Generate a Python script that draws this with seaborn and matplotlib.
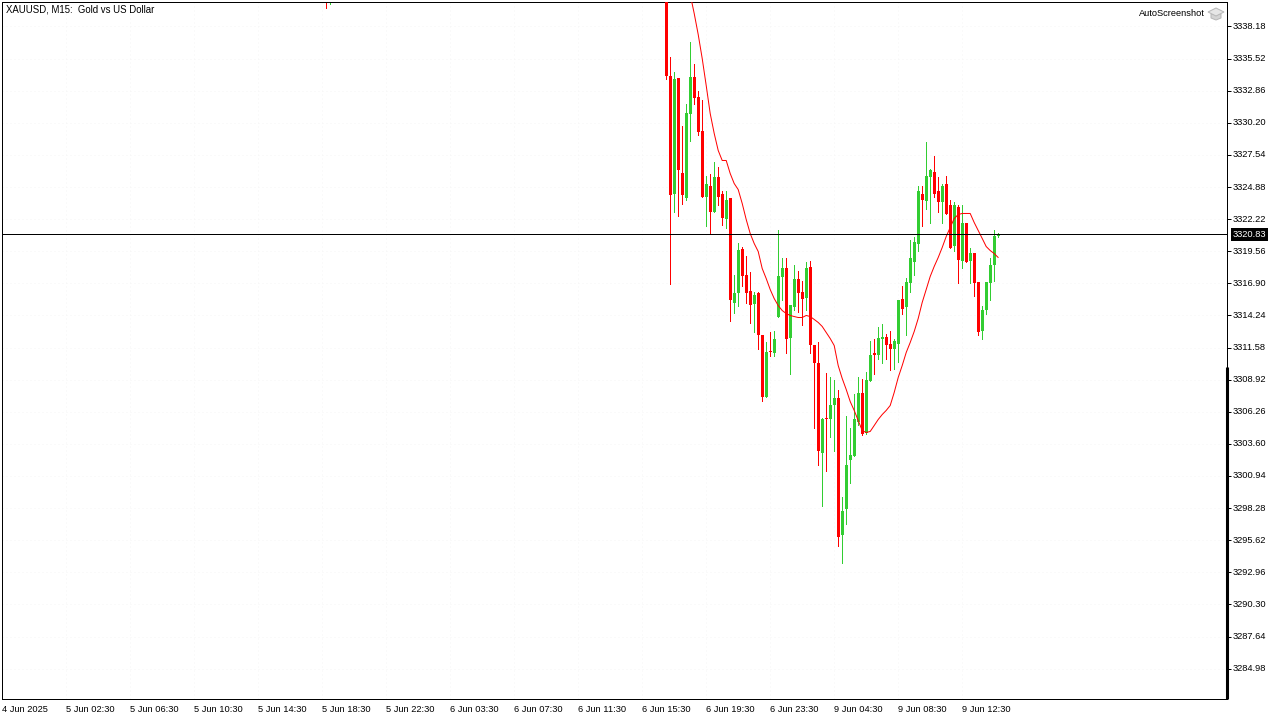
import numpy as np
import pandas as pd
import matplotlib
matplotlib.use("Agg")
import matplotlib.pyplot as plt
from matplotlib.patches import Polygon
from matplotlib.transforms import blended_transform_factory
import seaborn as sns

# ---- data ----
stray_bars = [81, 82]
stray_open = [3342.50, 3341.00]
stray_high = [3343.00, 3342.00]
stray_low = [3339.67, 3340.00]
stray_close = [3341.00, 3341.80]

first_bar = 166
opens = [3345.00,3334.04,3324.26,3333.87,3326.00,3323.93,3330.89,3333.95,3332.30,3329.48,
         3324.01,3324.92,3322.77,3325.67,3324.26,3322.19,3323.85,3315.23,3315.98,3319.70,
         3317.55,3316.22,3315.15,3315.98,3312.50,3307.44,3311.25,3311.09,3314.07,3317.38,
         3318.13,3312.33,3314.82,3317.22,3316.14,3315.64,3318.21,3311.75,3310.26,3302.80,
         3305.70,3305.54,3306.78,3307.28,3295.93,3298.16,3302.22,3302.55,3305.37,3307.77,
         3304.46,3308.77,3311.01,3310.92,3312.17,3312.41,3311.83,3311.42,3311.83,3315.56,
         3314.82,3316.89,3318.63,3320.04,3324.26,3323.68,3325.59,3326.08,3324.51,3323.52,
         3325.09,3323.35,3319.95,3323.18,3318.71,3321.86,3318.71,3319.37,3316.97,3312.91,
         3314.65,3316.89,3318.30,3320.75]
highs = [3346.00,3335.61,3334.29,3333.87,3329.89,3331.72,3336.85,3335.03,3332.79,3332.05,
         3325.75,3325.84,3326.91,3326.50,3324.43,3324.51,3323.85,3317.55,3320.20,3319.87,
         3319.12,3317.80,3316.14,3316.14,3312.58,3312.00,3312.83,3312.91,3321.28,3318.88,
         3318.88,3315.06,3318.30,3317.88,3317.05,3318.63,3318.71,3311.75,3312.00,3305.70,
         3309.43,3309.10,3308.85,3308.02,3299.16,3305.87,3304.87,3307.69,3309.10,3308.93,
         3309.51,3312.08,3312.17,3313.24,3313.49,3312.66,3312.91,3312.25,3315.48,3316.64,
         3317.30,3320.45,3320.62,3324.92,3324.92,3328.49,3326.33,3327.41,3325.59,3325.01,
         3325.75,3323.76,3323.52,3323.35,3323.35,3321.86,3319.79,3319.37,3316.97,3314.98,
         3316.97,3318.88,3321.20,3320.95]
lows = [3333.79,3316.80,3322.69,3322.44,3323.43,3323.76,3328.65,3331.72,3329.15,3324.01,
        3321.53,3321.03,3322.69,3323.27,3321.69,3321.44,3313.74,3314.40,3314.98,3316.56,
        3315.23,3313.57,3312.83,3311.34,3307.11,3307.44,3310.84,3310.84,3314.07,3315.48,
        3311.09,3309.35,3314.65,3314.48,3313.41,3314.65,3311.01,3304.87,3301.81,3298.41,
        3301.31,3304.05,3302.97,3295.10,3293.61,3296.92,3300.24,3302.55,3305.12,3304.29,
        3304.38,3308.77,3309.35,3310.59,3310.18,3310.59,3309.60,3309.76,3310.34,3314.24,
        3312.50,3316.14,3317.55,3319.54,3321.61,3322.94,3321.78,3324.01,3322.77,3321.86,
        3322.60,3319.79,3319.54,3316.89,3318.13,3318.63,3316.89,3315.81,3312.58,3312.17,
        3314.24,3315.48,3317.05,3320.70]
closes = [3334.04,3324.18,3333.79,3326.17,3324.10,3330.97,3333.95,3332.21,3329.40,3324.01,
          3325.01,3322.77,3325.67,3324.01,3322.27,3323.76,3315.40,3316.06,3319.62,3317.47,
          3316.06,3315.06,3315.89,3312.50,3307.44,3311.17,3311.17,3312.25,3317.47,3318.13,
          3312.25,3315.06,3317.14,3315.98,3315.56,3318.13,3311.75,3310.18,3302.89,3305.54,
          3305.62,3306.78,3307.28,3295.84,3298.00,3301.81,3302.64,3305.62,3307.77,3304.38,
          3308.85,3310.92,3310.92,3312.33,3312.41,3311.75,3311.34,3312.08,3315.40,3314.73,
          3316.97,3318.88,3320.28,3324.51,3323.76,3325.75,3326.17,3324.26,3323.52,3324.92,
          3322.60,3319.79,3323.27,3318.79,3321.86,3318.63,3319.37,3316.89,3312.83,3314.65,
          3316.97,3318.38,3320.78,3320.83]
read_offset = 0.08  # calibration of the candle readings against the price scale
moving_avg = [3340.83,3339.26,3337.52,3335.53,3333.29,3330.97,3329.32,3327.91,3327.08,3327.08,
              3326.00,3325.17,3324.67,3323.52,3322.19,3321.03,3320.20,3319.54,3318.13,3317.30,
              3316.39,3315.64,3315.06,3314.65,3314.40,3314.24,3314.15,3314.07,3314.07,3314.24,
              3314.15,3313.91,3313.66,3313.33,3312.83,3312.33,3311.75,3310.09,3309.02,3308.11,
              3307.11,3306.37,3305.54,3304.71,3304.54,3304.63,3305.12,3305.62,3306.03,3306.37,
              3306.78,3307.86,3309.10,3310.09,3311.17,3312.00,3312.91,3313.99,3315.32,3316.39,
              3317.47,3318.30,3319.04,3319.87,3320.78,3321.53,3322.27,3322.60,3322.69,3322.69,
              3322.69,3321.94,3321.28,3320.62,3319.95,3319.62,3319.37,3319.04]
last_price = 3320.83
last_price_line = 3320.95  # where the line sits
price_ticks = [3338.18,3335.52,3332.86,3330.20,3327.54,3324.88,3322.22,3319.56,3316.90,3314.24,
               3311.58,3308.92,3306.26,3303.60,3300.94,3298.28,3295.62,3292.96,3290.30,3287.64,3284.98]
time_ticks = list(range(0, 256, 16))
time_labels = ["4 Jun 2025","5 Jun 02:30","5 Jun 06:30","5 Jun 10:30","5 Jun 14:30","5 Jun 18:30",
               "5 Jun 22:30","6 Jun 03:30","6 Jun 07:30","6 Jun 11:30","6 Jun 15:30","6 Jun 19:30",
               "6 Jun 23:30","9 Jun 04:30","9 Jun 08:30","9 Jun 12:30"]
title = "XAUUSD, M15:  Gold vs US Dollar"
badge = "AutoScreenshot"

UP, DOWN = "#32cd32", "#ff0000"
PX = 0.72  # one pixel in points at dpi 100

sns.set_theme(style="white")
plt.rcParams["font.family"] = ["Liberation Sans", "DejaVu Sans"]

n = len(opens)
df = pd.DataFrame({
    "bar": stray_bars + list(range(first_bar, first_bar + n)),
    "open": stray_open + opens,
    "high": stray_high + highs,
    "low": stray_low + lows,
    "close": stray_close + closes,
})
df["color"] = np.where(df["close"] >= df["open"], UP, DOWN)
for col in ("open", "high", "low", "close"):
    df[col] = df[col] + read_offset
ma = pd.DataFrame({"bar": np.arange(df["bar"].iloc[-1] - len(moving_avg) + 1, df["bar"].iloc[-1] + 1),
                   "ma": moving_avg})

fig = plt.figure(figsize=(12.8, 7.2), dpi=100, facecolor="white")
ax = fig.add_axes([2.2 / 1280, (720 - 699.2) / 720, 1225 / 1280, 697 / 720])
ax.set_xlim(0, 306.25)
ax.set_ylim(3282.447, 3340.193)

ax.grid(True, color="#f6f6f6", linestyle=(0, (1, 3)), linewidth=PX)
ax.set_axisbelow(True)

for color, part in df.groupby("color"):
    ax.vlines(part["bar"].to_numpy(), part["low"].to_numpy(), part["high"].to_numpy(),
              colors=color, linewidth=PX, antialiased=False, zorder=2)
    ax.bar(part["bar"].to_numpy(), (part["close"] - part["open"]).abs().to_numpy(),
           bottom=part[["open", "close"]].min(axis=1).to_numpy(),
           width=0.75, color=color, linewidth=0, antialiased=False, zorder=3)

before = len(ax.lines)
sns.lineplot(data=ma, x="bar", y="ma", ax=ax, color="#ff0000", zorder=4)
for line in ax.lines[before:]:
    line.set_linewidth(PX)
    line.set_antialiased(True)
    line.set_solid_joinstyle("miter")
ax.axhline(last_price_line, color="black", linewidth=PX, antialiased=False, zorder=5)

ax.set_xlabel("")
ax.set_ylabel("")
ax.set_xticks(time_ticks)
ax.set_xticklabels(time_labels, ha="left")
ax.set_yticks(price_ticks)
ax.set_yticklabels([f"{v:.2f}" for v in price_ticks], va="center")
ax.yaxis.tick_right()
ax.tick_params(axis="both", which="major", direction="out", colors="black", width=PX,
               length=3.2, labelsize=6.7, pad=0.8)
ax.tick_params(axis="x", pad=0.8)
for s in ax.spines.values():
    s.set_visible(True)
    s.set_color("black")
    s.set_linewidth(PX)

# thick scale-fix marker on the lower part of the price axis
ax.plot([1, 1], [0, 0.476], transform=ax.transAxes, color="black", linewidth=2.2, clip_on=False,
        solid_capstyle="butt", zorder=6)

# last-price flag
trans = blended_transform_factory(ax.transAxes, ax.transData)
ax.text(1.0042, last_price_line, f"{last_price:.2f}", transform=trans, color="white", fontsize=6.7,
        ha="left", va="center", clip_on=False, zorder=7,
        bbox=dict(boxstyle="square,pad=0.18", facecolor="black", edgecolor="black", linewidth=0))

def fx(px):
    return px / 1280
def fy(py):
    return 1 - py / 720

fig.text(fx(6), fy(9), title, fontsize=6.95, color="black", ha="left", va="center")
fig.text(fx(1205), fy(14), badge, fontsize=6.7, color="black", ha="right", va="center")

cap_base = [(1211, 14), (1211, 18), (1216, 20), (1221, 18), (1221, 14)]
cap_top = [(1208, 12), (1216, 8), (1224, 12), (1216, 16)]
for pts, fc in ((cap_base, "#d4d4d4"), (cap_top, "#e6e6e6")):
    fig.add_artist(Polygon([(fx(x), fy(y)) for x, y in pts], closed=True, transform=fig.transFigure,
                           facecolor=fc, edgecolor="#b8b8b8", linewidth=PX))

fig.savefig("out.png", dpi=100)
